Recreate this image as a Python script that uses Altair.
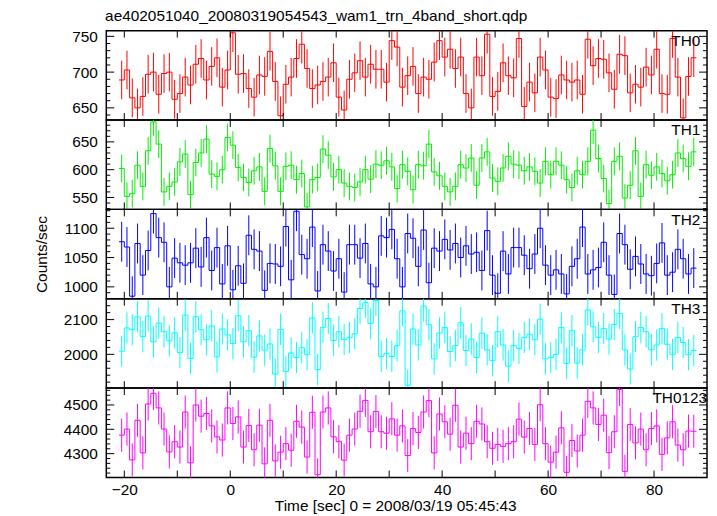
import altair as alt
import pandas as pd

# ---------------- data ----------------
T_START = -21.0          # left edge of the first 1-s bin
BIN = 1.0
X_DOMAIN = [-23.4, 90.0]
X_TICKS = [-20, -10, 0, 10, 20, 30, 40, 50, 60, 70, 80]
X_LABELS = [-20, 0, 20, 40, 60, 80]

names = ["TH0", "TH1", "TH2", "TH3", "TH0123"]
colors = ["#ff0000", "#00ee00", "#0000ff", "#00ffff", "#ff00ff"]

th0 = [689, 703, 664, 650, 666, 697, 700, 669, 698, 700, 662, 670, 693, 682, 711, 719, 689, 708, 720, 679,
       703, 755, 697, 698, 677, 665, 696, 694, 729, 687, 639, 683, 693, 719, 739, 705, 677, 682, 687, 693,
       713, 665, 647, 690, 699, 716, 693, 711, 704, 704, 686, 744, 735, 679, 695, 708, 670, 693, 690, 714,
       744, 721, 732, 705, 721, 670, 650, 721, 695, 753, 666, 673, 713, 695, 692, 747, 652, 686, 671, 721,
       703, 665, 663, 696, 689, 686, 689, 669, 746, 709, 719, 718, 699, 676, 725, 723, 671, 683, 679, 707,
       696, 732, 670, 669, 747, 693, 636, 694, 720]

th1 = [602, 552, 557, 608, 570, 634, 686, 646, 560, 570, 578, 614, 628, 555, 613, 630, 655, 592, 588, 600,
       658, 644, 604, 586, 577, 598, 605, 561, 638, 607, 561, 606, 608, 582, 593, 533, 582, 586, 637, 626,
       587, 600, 576, 570, 568, 578, 600, 583, 610, 608, 616, 605, 566, 609, 597, 564, 609, 607, 646, 596,
       589, 570, 560, 570, 609, 603, 621, 572, 621, 632, 585, 579, 603, 624, 610, 608, 598, 605, 597, 576,
       615, 591, 615, 608, 582, 568, 598, 591, 615, 671, 620, 584, 539, 615, 624, 549, 572, 634, 552, 609,
       590, 605, 593, 580, 591, 630, 620, 606, 632]

th2 = [1077, 1068, 984, 1074, 1020, 1062, 1125, 1084, 1076, 1000, 1049, 1041, 1037, 1041, 1066, 1034, 1084, 1028, 1067, 1005,
       1070, 995, 1036, 1006, 1088, 1064, 1061, 994, 1040, 1039, 1035, 1103, 1012, 1129, 1055, 1048, 1102, 993, 1072, 1061,
       1027, 1048, 991, 1072, 1072, 1049, 1074, 1005, 1000, 1087, 1084, 1098, 1048, 1000, 1091, 1083, 1035, 1097, 1007, 1066,
       1061, 1081, 1063, 1074, 1050, 1070, 1056, 1059, 1028, 1096, 1020, 989, 1061, 1022, 1067, 1067, 1054, 1031, 1056, 1100,
       1037, 1020, 1029, 1022, 988, 1035, 1048, 1102, 1022, 1029, 1033, 1076, 1020, 987, 1091, 1072, 1030, 1052, 1039, 1022,
       1019, 1040, 1075, 1020, 1025, 1064, 1048, 1022, 1032]

th3 = [2009, 2076, 2071, 2108, 2051, 2110, 2036, 2090, 2065, 2039, 2062, 2005, 2113, 1988, 2108, 2071, 2042, 2082, 1993, 2073,
       2056, 2031, 2111, 2036, 2068, 1992, 2053, 2012, 2030, 1943, 2072, 1951, 2004, 1991, 2019, 1999, 2105, 1956, 2078, 2103,
       2040, 2065, 2043, 2048, 2059, 2132, 2149, 2089, 2155, 1994, 2002, 1994, 2025, 2125, 1911, 2073, 2027, 2139, 2085, 1987,
       2061, 2077, 2008, 2025, 2091, 2011, 2044, 1991, 2061, 2013, 1982, 2065, 2027, 1966, 2025, 2017, 2049, 2058, 2042, 2101,
       1987, 1991, 2000, 2077, 1974, 2068, 1975, 2013, 2128, 2079, 2049, 2074, 2044, 2086, 2118, 2013, 1958, 2051, 2077, 2065,
       2013, 2027, 2074, 2029, 2000, 2048, 2034, 1999, 2011]

th0123 = [4376, 4401, 4274, 4437, 4303, 4504, 4548, 4488, 4401, 4307, 4349, 4327, 4471, 4262, 4500, 4454, 4465, 4414, 4369, 4356,
          4488, 4424, 4451, 4327, 4416, 4316, 4417, 4258, 4437, 4270, 4306, 4341, 4314, 4433, 4409, 4286, 4470, 4213, 4471, 4488,
          4369, 4349, 4273, 4376, 4401, 4474, 4519, 4390, 4473, 4390, 4384, 4443, 4376, 4414, 4292, 4403, 4387, 4471, 4518, 4303,
          4463, 4431, 4380, 4499, 4327, 4384, 4341, 4433, 4422, 4349, 4322, 4338, 4330, 4341, 4349, 4442, 4368, 4403, 4338, 4501,
          4341, 4265, 4306, 4406, 4223, 4354, 4311, 4376, 4515, 4488, 4420, 4458, 4304, 4390, 4564, 4227, 4420, 4344, 4401, 4316,
          4403, 4414, 4297, 4365, 4431, 4335, 4316, 4393, 4392]

series = [th0, th1, th2, th3, th0123]
errors = [27, 25, 34, 45, 68]          # half-length of the error bars

y_domains = [[633, 758], [528.6, 689.3], [979.7, 1132.2], [1902.9, 2160], [4202, 4569.4]]
y_major = [[650, 700, 750], [550, 600, 650], [1000, 1050, 1100], [2000, 2100], [4300, 4400, 4500]]
y_minor = [
    [640, 660, 670, 680, 690, 710, 720, 730, 740],
    [530, 540, 560, 570, 580, 590, 610, 620, 630, 640, 660, 670, 680],
    [990, 1010, 1020, 1030, 1040, 1060, 1070, 1080, 1090, 1110, 1120, 1130],
    [1920, 1940, 1960, 1980, 2020, 2040, 2060, 2080, 2120, 2140],
    [4220, 4240, 4260, 4280, 4320, 4340, 4360, 4380, 4420, 4440, 4460, 4480, 4520, 4540, 4560],
]

TITLE = "ae402051040_20080319054543_wam1_trn_4band_short.qdp"
X_TITLE = "Time [sec] 0 = 2008/03/19 05:45:43"
Y_TITLE = "Counts/sec"

W, H = 605, 90
FONT = "Liberation Sans"
FS = 15.5
LABEL_X = [569, 569, 569, 569, 550]     # left edge of the in-panel band labels (px)


def make_panel(i):
    vals = series[i]
    n = len(vals)
    col = colors[i]
    edges = [T_START + k * BIN for k in range(n + 1)]
    step_df = pd.DataFrame({"t": edges, "v": vals + [vals[-1]]})
    err_df = pd.DataFrame({
        "t": [T_START + (k + 0.5) * BIN for k in range(n)],
        "v": [v - errors[i] for v in vals],
        "v2": [v + errors[i] for v in vals],
    })
    xs = alt.Scale(domain=X_DOMAIN, nice=False, zero=False)
    ys = alt.Scale(domain=y_domains[i], nice=False, zero=False)
    last = i == len(series) - 1
    if last:
        xaxis = alt.Axis(values=X_LABELS, ticks=False, domain=False, grid=False,
                         labelPadding=5, labelFontSize=FS, labelFont=FONT, labelColor="black",
                         labelFlush=False, title=X_TITLE, titleFontSize=FS, titleFont=FONT,
                         titleFontWeight="normal", titlePadding=1, titleColor="black",
                         titleX=291, titleAlign="center")
    else:
        xaxis = None
    ytitle = Y_TITLE if i == 2 else None
    yaxis = alt.Axis(values=y_major[i], format="d", ticks=False, domain=False, grid=False,
                     labelPadding=9, labelFontSize=FS, labelFont=FONT, labelColor="black",
                     labelFlush=False, title=ytitle, titleFontSize=FS, titleFont=FONT,
                     titleFontWeight="normal", titlePadding=14, titleColor="black")

    X = lambda: alt.X("t:Q", scale=xs, axis=xaxis)
    Y = lambda: alt.Y("v:Q", scale=ys, axis=yaxis)

    errs = alt.Chart(err_df).mark_rule(color=col, strokeWidth=1, clip=True).encode(
        x=X(), y=Y(), y2="v2:Q")
    step = alt.Chart(step_df).mark_line(color=col, strokeWidth=1, interpolate="step-after",
                                        clip=True).encode(x=X(), y=Y())

    maj = pd.DataFrame({"v": y_major[i]})
    mnr = pd.DataFrame({"v": y_minor[i]})
    tk = dict(color="black", strokeWidth=1)
    ytl = alt.Chart(maj).mark_rule(**tk).encode(y=Y(), x=alt.value(0), x2=alt.value(8))
    ytr = alt.Chart(maj).mark_rule(**tk).encode(y=Y(), x=alt.value(W - 8), x2=alt.value(W))
    ytl2 = alt.Chart(mnr).mark_rule(**tk).encode(y=Y(), x=alt.value(0), x2=alt.value(4))
    ytr2 = alt.Chart(mnr).mark_rule(**tk).encode(y=Y(), x=alt.value(W - 4), x2=alt.value(W))

    xt = pd.DataFrame({"t": X_TICKS})
    xtt = alt.Chart(xt).mark_rule(**tk).encode(x=X(), y=alt.value(0), y2=alt.value(7))
    xtb = alt.Chart(xt).mark_rule(**tk).encode(x=X(), y=alt.value(H - 7), y2=alt.value(H))

    lab = alt.Chart(pd.DataFrame({"name": [names[i]]})).mark_text(
        align="left", baseline="top", font=FONT, fontSize=FS, color="black").encode(
        x=alt.value(LABEL_X[i]), y=alt.value(3.5), text="name:N")

    return alt.layer(errs, step, ytl, ytr, ytl2, ytr2, xtt, xtb, lab).properties(width=W, height=H)


chart = alt.vconcat(*[make_panel(i) for i in range(len(series))], spacing=0, bounds="flush").properties(
    title=alt.TitleParams(TITLE, anchor="start", fontSize=FS, font=FONT, fontWeight="normal",
                          color="black", offset=4.5, dx=72),
    padding={"left": 25, "top": -1, "right": 0, "bottom": 0},
).configure_view(stroke="black", strokeWidth=1.5).configure_concat(spacing=0)

chart.save("out.html", embed_options={"renderer": "svg", "actions": False})
